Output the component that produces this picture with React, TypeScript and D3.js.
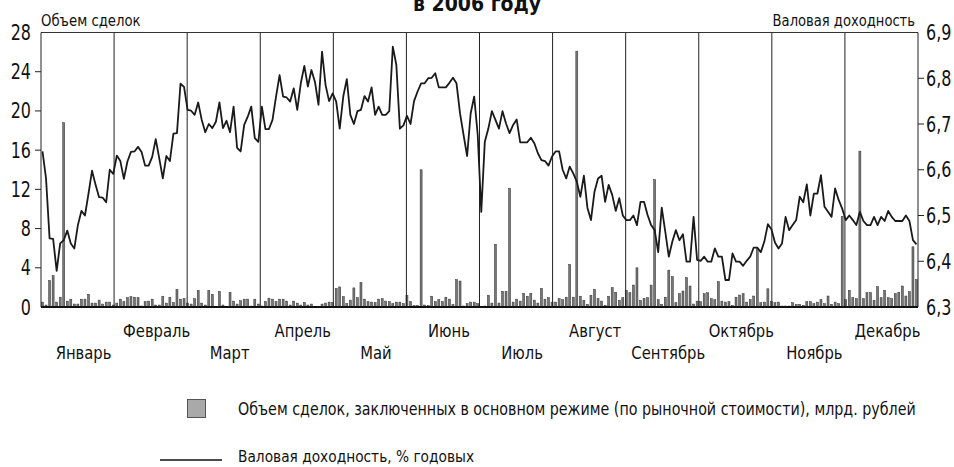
import React from "react";
import * as d3 from "d3";

const months = ["Январь","Февраль","Март","Апрель","Май","Июнь","Июль","Август","Сентябрь","Октябрь","Ноябрь","Декабрь"];
const leftTicks = [0,4,8,12,16,20,24,28];
const rightTicks = [6.3,6.4,6.5,6.6,6.7,6.8,6.9];

// Объем сделок, млрд руб. (по торговым дням)
const volume = [
  // Jan
  0.5,0.2,2.7,3.2,0.5,1.0,18.8,0.6,0.8,0.3,0.3,0.8,0.8,1.3,0.4,0.4,0.7,0.3,0.5,0.5,
  // Feb
  0.2,0.4,0.8,0.55,0.95,1.05,1.0,0.95,0.1,0.55,0.6,0.8,0.2,0.2,1.1,0.4,1.0,0.45,1.8,0.8,0.85,
  // Mar
  0.4,0.3,0.85,1.7,0.4,0.2,1.7,1.3,0.05,1.6,0.2,0.05,1.5,0.6,0.3,0.65,0.8,0.8,0.1,0.8,0.3,
  // Apr
  0.1,0.55,0.9,0.8,0.55,0.8,0.8,0.6,0.2,0.6,0.4,0.2,0.45,0.2,0.3,0,0,0.3,0.4,0.5,
  // May
  0.45,1.9,2.05,1.05,0.35,0.7,1.95,0.95,2.5,0.8,0.55,0.5,0.45,0.8,0.85,0.6,0.55,0.35,0.5,0.5,0.35,
  // Jun
  1.2,0.55,0.15,0.15,14.0,0.2,0.15,1.1,0.55,0.75,0.55,1.0,0.8,0.25,2.8,2.65,0.1,0.35,0.5,0.5,0.35,
  // Jul
  0,0.1,1.2,0.4,6.4,0.4,1.6,1.6,12.1,0.5,0.8,0.6,1.4,1.1,1.4,0.7,0.4,1.9,0.8,0.95,
  // Aug
  0.5,0.5,0.85,0.75,1.0,4.34,1.0,26.1,1.1,0.68,0.27,1.2,1.8,0.85,0.6,0.17,1.1,1.97,1.5,0.68,0.95,
  // Sep
  1.7,1.46,2.24,4.0,0.68,0.88,0.95,2.24,13.0,0.75,0.27,1.0,3.76,3.1,0.44,1.36,1.63,3.0,2.14,0.3,0.6,
  // Oct
  0.54,1.36,1.46,0.85,0.75,2.58,0.6,0.5,0.54,0.17,1.0,1.22,1.36,0.5,0.75,1.12,5.97,0.44,0.5,1.86,0.54,
  // Nov
  0.44,0.5,0.1,0.1,0.1,0.44,0.27,0.27,0.17,0.54,0.54,0.34,0.5,0.75,0.34,1.12,0.27,0.5,0.34,9.25,
  // Dec
  0.75,1.7,0.95,0.85,15.9,0.85,1.46,1.46,0.68,2.07,0.95,1.7,0.95,0.85,1.36,1.5,2.14,1.12,1.56,6.14,2.8,
];

// Валовая доходность, % годовых
const grossYield = [
  // Jan
  6.640,6.581,6.450,6.449,6.379,6.439,6.446,6.467,6.439,6.428,6.479,6.510,6.500,6.548,6.598,6.567,6.540,6.539,6.529,6.600,
  // Feb
  6.591,6.631,6.619,6.580,6.618,6.639,6.640,6.650,6.639,6.609,6.609,6.628,6.667,6.625,6.581,6.630,6.619,6.679,6.680,6.788,6.781,
  // Mar
  6.731,6.729,6.720,6.747,6.709,6.682,6.700,6.691,6.705,6.747,6.691,6.707,6.682,6.738,6.648,6.640,6.698,6.716,6.738,6.669,6.661,
  // Apr
  6.738,6.689,6.689,6.709,6.760,6.807,6.760,6.758,6.749,6.778,6.731,6.789,6.827,6.782,6.818,6.792,6.742,6.858,6.785,6.750,
  // May
  6.767,6.749,6.690,6.760,6.798,6.720,6.700,6.728,6.731,6.761,6.749,6.780,6.720,6.738,6.720,6.720,6.728,6.869,6.829,6.690,6.697,
  // Jun
  6.718,6.700,6.750,6.771,6.789,6.789,6.800,6.801,6.811,6.780,6.780,6.780,6.790,6.801,6.789,6.723,6.676,6.630,6.723,6.760,6.676,
  // Jul
  6.508,6.661,6.690,6.728,6.709,6.690,6.728,6.701,6.680,6.698,6.710,6.660,6.660,6.660,6.670,6.658,6.636,6.621,6.619,6.609,
  // Aug
  6.629,6.640,6.640,6.600,6.581,6.607,6.592,6.574,6.541,6.587,6.517,6.490,6.552,6.581,6.587,6.530,6.567,6.545,6.510,6.538,6.500,
  // Sep
  6.490,6.490,6.500,6.479,6.530,6.530,6.501,6.479,6.468,6.420,6.517,6.465,6.410,6.443,6.468,6.446,6.459,6.399,6.399,6.497,6.403,
  // Oct
  6.401,6.410,6.399,6.399,6.428,6.410,6.410,6.359,6.359,6.417,6.399,6.399,6.390,6.401,6.410,6.430,6.430,6.420,6.443,6.481,6.470,
  // Nov
  6.441,6.428,6.439,6.497,6.468,6.479,6.490,6.541,6.529,6.568,6.500,6.548,6.548,6.588,6.519,6.508,6.497,6.559,6.534,6.515,
  // Dec
  6.490,6.500,6.490,6.479,6.508,6.488,6.479,6.479,6.497,6.479,6.497,6.488,6.510,6.497,6.488,6.488,6.488,6.500,6.488,6.446,6.437,
];

const FONT = "'DejaVu Sans', sans-serif";

type CTProps = {
  x: number; y: number; sx: number; size: number; anchor?: "start" | "middle" | "end";
  weight?: string; dy?: string; children: React.ReactNode;
};
function CText({ x, y, sx, size, anchor = "start", weight, dy, children }: CTProps) {
  return (
    <text transform={`translate(${x},${y}) scale(${sx},1)`} textAnchor={anchor} fontSize={size}
      fontWeight={weight} dy={dy} fill="#111">{children}</text>
  );
}

export default function App() {
  const W = 954, H = 467;
  const L = 41, R = 918, T = 32.5, B = 307;
  const n = Math.min(volume.length, grossYield.length);
  const x = d3.scaleLinear().domain([0, n - 1]).range([L + 1.5, R - 1.5]);
  const xm = d3.scaleLinear().domain([0, 12]).range([L, R]);
  const yL = d3.scaleLinear().domain([0, 28]).range([B, T]);
  const yR = d3.scaleLinear().domain([6.3, 6.9]).range([B, T]);
  const line = d3.line<number>().x((_, i) => x(i)).y((d) => yR(d));
  const lineData = grossYield.slice(0, n);

  return (
    <svg width={W} height={H} style={{ position: "absolute", left: 0, top: 0, background: "#fff" }} fontFamily={FONT}>
      <CText x={477} y={11} sx={0.9} size={21} anchor="middle" weight="bold">в 2006 году</CText>
      <CText x={L} y={26} sx={0.83} size={16}>Объем сделок</CText>
      <CText x={915} y={26} sx={0.82} size={16} anchor="end">Валовая доходность</CText>

      {/* bars */}
      <g>
        {volume.slice(0, n).map((v, i) => (
          <rect key={i} x={x(i) - 1} y={yL(v)} width={2} height={B - yL(v)} fill="#767676" stroke="#333" strokeWidth={0.5} />
        ))}
      </g>

      {/* month dividers */}
      <g>
        {d3.range(1, 12).map((m) => (
          <line key={m} x1={xm(m)} x2={xm(m)} y1={T} y2={B} stroke="#222" strokeWidth={1} />
        ))}
      </g>

      {/* frame */}
      <line x1={L} x2={R} y1={T} y2={T} stroke="#333" strokeWidth={1} />
      <line x1={L} x2={L} y1={T} y2={B} stroke="#222" strokeWidth={1} />
      <line x1={R} x2={R} y1={T} y2={B} stroke="#222" strokeWidth={1} />
      <line x1={L} x2={R} y1={B} y2={B} stroke="#111" strokeWidth={2} />

      {/* yield line */}
      <path d={line(lineData) || ""} fill="none" stroke="#1a1a1a" strokeWidth={1.8} strokeLinejoin="round" />

      {/* left axis */}
      <g>
        {leftTicks.map((t) => (
          <g key={t}>
            {t !== 0 && t !== 28 && <line x1={L - 6} x2={L} y1={yL(t)} y2={yL(t)} stroke="#222" />}
            <CText x={31} y={yL(t)} dy="0.36em" sx={0.76} size={21} anchor="end">{t}</CText>
          </g>
        ))}
      </g>
      {/* right axis */}
      <g>
        {rightTicks.map((t) => (
          <g key={t}>
            {t > 6.31 && t < 6.89 && <line x1={R} x2={R + 6} y1={yR(t)} y2={yR(t)} stroke="#222" />}
            <CText x={926} y={yR(t)} dy="0.36em" sx={0.76} size={21}>{t.toFixed(1).replace(".", ",")}</CText>
          </g>
        ))}
      </g>

      {/* month labels */}
      <g>
        {months.map((m, i) => (
          <CText key={m} x={xm(i + 0.5) + 6} y={i % 2 === 0 ? 359 : 337} sx={0.87} size={17} anchor="middle">{m}</CText>
        ))}
      </g>

      {/* legend */}
      <rect x={187.5} y={399.5} width={18} height={18} fill="#a9a9a9" stroke="#555" strokeWidth={1} />
      <CText x={238} y={415} sx={0.84} size={17}>Объем сделок, заключенных в основном режиме (по рыночной стоимости), млрд. рублей</CText>
      <line x1={160} x2={222} y1={460} y2={460} stroke="#111" strokeWidth={1.5} />
      <CText x={238} y={462} sx={0.86} size={16}>Валовая доходность, % годовых</CText>
    </svg>
  );
}
